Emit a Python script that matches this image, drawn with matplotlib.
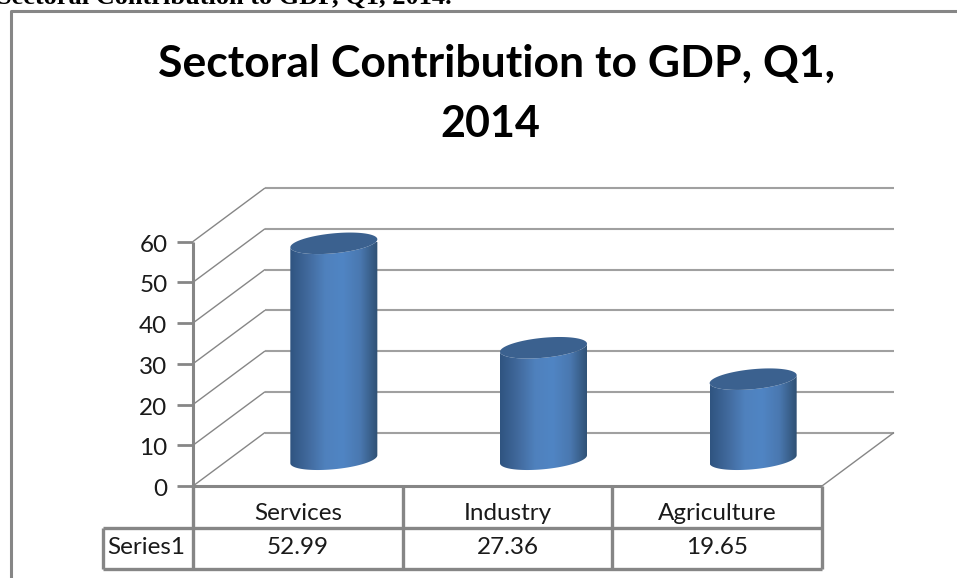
import numpy as np
import matplotlib
matplotlib.use("Agg")
import matplotlib.pyplot as plt
from matplotlib.path import Path
from matplotlib.patches import PathPatch
from matplotlib.colors import LinearSegmentedColormap

categories = ["Services", "Industry", "Agriculture"]
values = [52.99, 27.36, 19.65]
value_labels = ["52.99", "27.36", "19.65"]
yticks = [0, 10, 20, 30, 40, 50, 60]
series_name = "Series1"

W, H = 957, 578
GRAY = "#868686"
LIGHT = "#a0a0a0"
INK = "#1a1a1a"

fig = plt.figure(figsize=(W / 100, H / 100), dpi=100, facecolor="white")
plt.rcParams["font.family"] = ["Lato", "DejaVu Sans"]

# axes sits on the front face of the 3d box, y is the real value scale
left, right, top, bottom = 193, 822, 241.5, 486
ax = fig.add_axes([left / W, 1 - bottom / H, (right - left) / W, (bottom - top) / H])
ax.set_xlim(0, 3)
ax.set_ylim(0, 60)
ax.axis("off")

per_x = (right - left) / 3
per_y = (bottom - top) / 60
depth_x = 72 / per_x
depth_y = 53.5 / per_y


def line(xs, ys, color=GRAY, lw=1.0, zorder=2):
    ax.plot(xs, ys, color=color, lw=lw, clip_on=False, zorder=zorder, solid_capstyle="butt")


# gridlines on back wall and side wall
for t in yticks:
    line([depth_x, 3 + depth_x], [t + depth_y, t + depth_y], color=LIGHT, lw=1.5)
    line([0, depth_x], [t, t + depth_y], color=GRAY, lw=1.0)
    line([-0.075, 0], [t, t], lw=2)
    ax.text(-0.122, t - 0.87, str(t), ha="right", va="center", fontsize=17.5, color=INK)
line([3, 3 + depth_x], [0, depth_y], color=GRAY, lw=1.0)
line([0, 0], [0, 60], lw=2.2, zorder=3)

# cylinders: tilted ellipses top and bottom with a shaded body
cmap = LinearSegmentedColormap.from_list(
    "cyl", ["#2f5480", "#41699c", "#4f81bd", "#5085c4", "#4a78b0", "#2f5073"])
a = 43.5 / per_x
b = 10 / per_y
shear = 4 / per_y
t_up = np.linspace(np.pi, 0, 60)
t_low = np.linspace(np.pi, 2 * np.pi, 60)


def ellipse_pts(cx, cy, t):
    return np.column_stack([cx + a * np.cos(t), cy + b * np.sin(t) + shear * np.cos(t)])


grad = np.linspace(0, 1, 256).reshape(1, -1)
for i, v in enumerate(values):
    cx = i + 0.5 + depth_x / 2
    base = depth_y / 2
    low = ellipse_pts(cx, base, t_low)
    body = np.vstack([low, ellipse_pts(cx, base + v, t_low)[::-1]])
    patch = PathPatch(Path(np.vstack([body, body[0]])), fc="none", ec="none", transform=ax.transData)
    ax.add_patch(patch)
    im = ax.imshow(grad, extent=[cx - a, cx + a, base - b - shear, base + v + b + shear],
                   aspect="auto", cmap=cmap, zorder=4, interpolation="bilinear")
    im.set_clip_path(patch)
    cap = np.vstack([ellipse_pts(cx, base + v, t_up), ellipse_pts(cx, base + v, t_low)[::-1]])
    ax.fill(cap[:, 0], cap[:, 1], color="#3b618f", zorder=5, clip_on=False, lw=0)

ax.set_xlim(0, 3)
ax.set_ylim(0, 60)

# data table under the plot
row1 = -(513 - 486) / per_y
row2 = -(548 - 486) / per_y
row_sep = -(528 - 486) / per_y
row_end = -(569 - 486) / per_y
table_left = -(193 - 103) / per_x
line([0, 3], [0, 0], lw=2.2, zorder=3)
line([table_left, 3], [row_sep, row_sep], lw=2.4)
line([table_left, 3], [row_end, row_end], lw=2.4)
line([table_left, table_left], [row_sep, row_end], lw=2.4)
for k in range(4):
    line([k, k], [0, row_end], lw=2.4)
for i, (c, s) in enumerate(zip(categories, value_labels)):
    ax.text(i + 0.5, row1, c, ha="center", va="center", fontsize=17.5, color=INK)
    ax.text(i + 0.5, row2, s, ha="center", va="center", fontsize=17.5, color=INK)
ax.text(-(193 - 146) / per_x, row2, series_name, ha="center", va="center", fontsize=17.5, color=INK)

# outer frame and headings, placed in figure pixels
fig.add_artist(plt.Line2D([11 / W, 11 / W, 1], [0, 1 - 11 / H, 1 - 11 / H],
                          color=GRAY, lw=2.2, transform=fig.transFigure))
fig.text(497 / W, 1 - 64 / H, "Sectoral Contribution to GDP, Q1,", ha="center", va="center",
         fontsize=32, fontweight="bold", color="black")
fig.text(490 / W, 1 - 124 / H, "2014", ha="center", va="center", fontsize=31, fontweight="bold",
         color="black")
fig.text(-3 / W, 1 - 4 / H, "Sectoral Contribution to GDP, Q1, 2014.", ha="left", va="baseline",
         fontsize=19, fontweight="bold", family=["Liberation Serif"], color="black")

fig.savefig("out.png", dpi=100)
